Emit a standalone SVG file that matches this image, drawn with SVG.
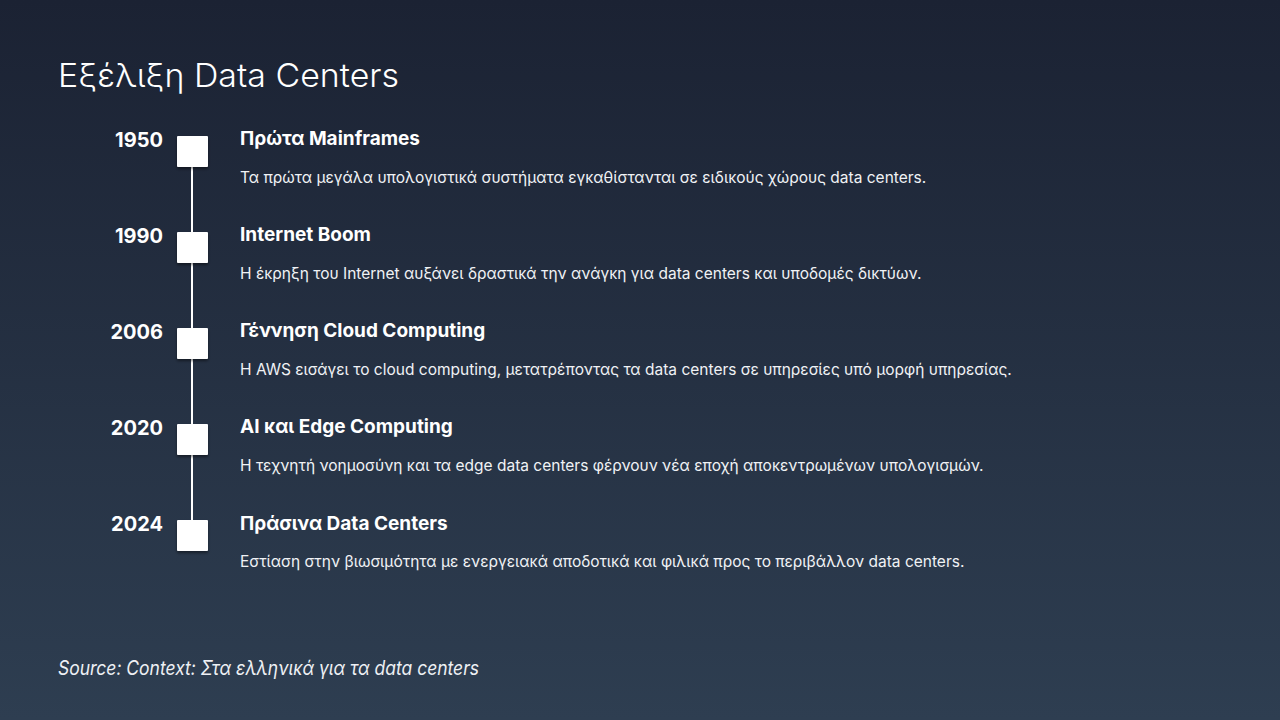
<svg xmlns="http://www.w3.org/2000/svg" width="1280" height="720" viewBox="0 0 1280 720">
<defs>
<linearGradient id="bg" x1="0" y1="0" x2="0" y2="1">
<stop offset="0" stop-color="#1b2233"/>
<stop offset="1" stop-color="#2e3e51"/>
</linearGradient>
<filter id="sh" x="-30%" y="-30%" width="160%" height="170%">
<feDropShadow dx="0" dy="2" stdDeviation="1.5" flood-color="#000" flood-opacity="0.45"/>
</filter>
<style>
.t{font-family:Inter,"Noto Sans",sans-serif;fill:#fff}
.title{font-size:33px;font-weight:300}
.yr{font-size:20px;font-weight:700;text-anchor:end}
.hd{font-size:19px;font-weight:700}
.ds{font-size:15.5px;fill:#f0f2f5}
.src{font-size:20px;font-style:italic;font-weight:400;fill:#eef0f4}
.box{fill:#fff;filter:url(#sh)}
</style>
</defs>
<rect width="1280" height="720" fill="url(#bg)"/>
<text class="t title" x="58" y="87" textLength="341" lengthAdjust="spacingAndGlyphs">Εξέλιξη Data Centers</text>
<g id="connectors">
<line x1="192" y1="160" x2="192" y2="530" stroke="#fff" stroke-width="2"/>
</g>
<g id="n1950">
<rect class="box" x="177" y="136" width="31" height="31" rx="1"/>
<text class="t yr" x="163" y="147">1950</text>
<text class="t hd" x="240" y="145">Πρώτα Mainframes</text>
<text class="t ds" x="240" y="183">Τα πρώτα μεγάλα υπολογιστικά συστήματα εγκαθίστανται σε ειδικούς χώρους data centers.</text>
</g>
<g id="n1990">
<rect class="box" x="177" y="232" width="31" height="31" rx="1"/>
<text class="t yr" x="163" y="243">1990</text>
<text class="t hd" x="240" y="241">Internet Boom</text>
<text class="t ds" x="240" y="279">Η έκρηξη του Internet αυξάνει δραστικά την ανάγκη για data centers και υποδομές δικτύων.</text>
</g>
<g id="n2006">
<rect class="box" x="177" y="328" width="31" height="31" rx="1"/>
<text class="t yr" x="163" y="339">2006</text>
<text class="t hd" x="240" y="337">Γέννηση Cloud Computing</text>
<text class="t ds" x="240" y="375">Η AWS εισάγει το cloud computing, μετατρέποντας τα data centers σε υπηρεσίες υπό μορφή υπηρεσίας.</text>
</g>
<g id="n2020">
<rect class="box" x="177" y="424" width="31" height="31" rx="1"/>
<text class="t yr" x="163" y="435">2020</text>
<text class="t hd" x="240" y="433">AI και Edge Computing</text>
<text class="t ds" x="240" y="471">Η τεχνητή νοημοσύνη και τα edge data centers φέρνουν νέα εποχή αποκεντρωμένων υπολογισμών.</text>
</g>
<g id="n2024">
<rect class="box" x="177" y="520" width="31" height="31" rx="1"/>
<text class="t yr" x="163" y="531">2024</text>
<text class="t hd" x="240" y="530">Πράσινα Data Centers</text>
<text class="t ds" x="240" y="567">Εστίαση στην βιωσιμότητα με ενεργειακά αποδοτικά και φιλικά προς το περιβάλλον data centers.</text>
</g>
<text class="t src" x="58" y="675" textLength="421" lengthAdjust="spacingAndGlyphs">Source: Context: Στα ελληνικά για τα data centers</text>
</svg>
